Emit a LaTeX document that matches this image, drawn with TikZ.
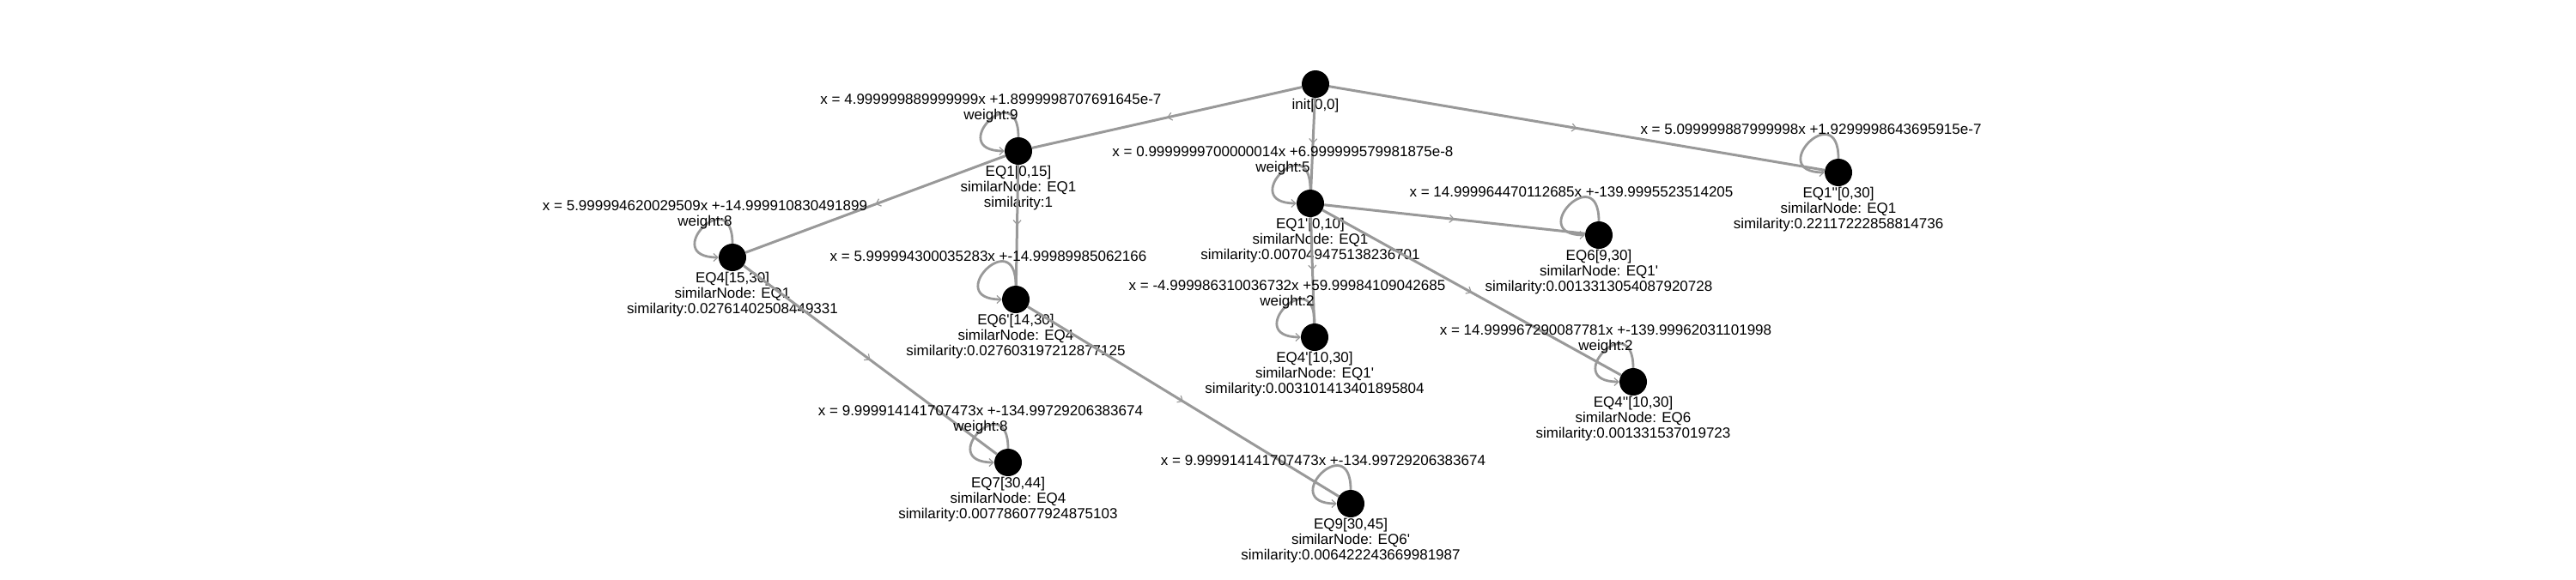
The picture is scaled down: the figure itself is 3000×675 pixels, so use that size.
\documentclass[tikz,border=0pt]{standalone}
\usepackage{fontspec}
\setmainfont{Liberation Sans}[Ligatures=TeXOff]
\usetikzlibrary{positioning,arrows.meta,decorations.markings}

\tikzset{
  state/.style={circle,fill=black,minimum size=32pt,inner sep=0pt},
  txt/.style={font=\fontsize{17}{17.7}\selectfont,align=center,inner sep=1pt},
  barb/.tip={Straight Barb[length=5pt,width=9pt,line width=1.2pt]},
  edge/.style={draw=black!40,line width=3pt,postaction={decorate},
    decoration={markings,mark=at position 0.5 with {\arrow{barb}}}},
  selfloop/.style={draw=black!40,line width=2.8pt,-barb},
}

\begin{document}
\begin{tikzpicture}[x=1pt,y=-1pt]
\useasboundingbox (0,0) rectangle (3000,675);

%states
\node[state] (init) at (1532,98) {};
\node[state] (eq1) at (1186,176) {};
\node[state] (eq1pp) at (2141,201) {};
\node[state] (eq1p) at (1526,237) {};
\node[state] (eq6) at (1862,274) {};
\node[state] (eq4) at (853,300) {};
\node[state] (eq6p) at (1183,349) {};
\node[state] (eq4p) at (1531,393) {};
\node[state] (eq4pp) at (1902,445) {};
\node[state] (eq7) at (1174,539) {};
\node[state] (eq9) at (1573,587) {};

\node[txt,below=0pt of init] (init-t) {init[0,0]};
\node[txt,below=0pt of eq1] (eq1-t) {EQ1[0,15]\\similarNode: EQ1\\similarity:1};
\node[txt,below=0pt of eq1pp] (eq1pp-t) {EQ1''[0,30]\\similarNode: EQ1\\similarity:0.22117222858814736};
\node[txt,below=0pt of eq1p] (eq1p-t) {EQ1'[0,10]\\similarNode: EQ1\\similarity:0.007049475138236701};
\node[txt,below=0pt of eq6] (eq6-t) {EQ6[9,30]\\similarNode: EQ1'\\similarity:0.0013313054087920728};
\node[txt,below=0pt of eq4] (eq4-t) {EQ4[15,30]\\similarNode: EQ1\\similarity:0.02761402508449331};
\node[txt,below=0pt of eq6p] (eq6p-t) {EQ6'[14,30]\\similarNode: EQ4\\similarity:0.027603197212877125};
\node[txt,below=0pt of eq4p] (eq4p-t) {EQ4'[10,30]\\similarNode: EQ1'\\similarity:0.003101413401895804};
\node[txt,below=0pt of eq4pp] (eq4pp-t) {EQ4''[10,30]\\similarNode: EQ6\\similarity:0.001331537019723};
\node[txt,below=0pt of eq7] (eq7-t) {EQ7[30,44]\\similarNode: EQ4\\similarity:0.007786077924875103};
\node[txt,below=0pt of eq9] (eq9-t) {EQ9[30,45]\\similarNode: EQ6'\\similarity:0.006422243669981987};

%transitions
\draw[edge] (init) -- (eq1);
\draw[edge] (init) -- (eq1pp);
\draw[edge] (init) -- (eq1p);
\draw[edge] (eq1) -- (eq4);
\draw[edge] (eq1) -- (eq6p);
\draw[edge] (eq1p) -- (eq6);
\draw[edge] (eq1p) -- (eq4p);
\draw[edge] (eq1p) -- (eq4pp);
\draw[edge] (eq4) -- (eq7);
\draw[edge] (eq6p) -- (eq9);

%self loops, label sits over the loop
\foreach \s in {eq1,eq1pp,eq1p,eq6,eq4,eq6p,eq4p,eq4pp,eq7,eq9}
  \draw[selfloop] (\s.north) .. controls +(0,-72) and +(-70,0) .. (\s.west);

\node[txt] (eq1-l) at ([shift={(-32pt,50pt)}]eq1) {x = 4.999999889999999x +1.8999998707691645e-7\\weight:9};
\node[txt] (eq1pp-l) at ([shift={(-32pt,50pt)}]eq1pp) {x = 5.099999887999998x +1.9299998643695915e-7};
\node[txt] (eq1p-l) at ([shift={(-32pt,50pt)}]eq1p) {x = 0.9999999700000014x +6.999999579981875e-8\\weight:5};
\node[txt] (eq6-l) at ([shift={(-32pt,50pt)}]eq6) {x = 14.999964470112685x +-139.9995523514205};
\node[txt] (eq4-l) at ([shift={(-32pt,50pt)}]eq4) {x = 5.999994620029509x +-14.999910830491899\\weight:8};
\node[txt] (eq6p-l) at ([shift={(-32pt,50pt)}]eq6p) {x = 5.999994300035283x +-14.99989985062166};
\node[txt] (eq4p-l) at ([shift={(-32pt,50pt)}]eq4p) {x = -4.999986310036732x +59.99984109042685\\weight:2};
\node[txt] (eq4pp-l) at ([shift={(-32pt,50pt)}]eq4pp) {x = 14.999967290087781x +-139.99962031101998\\weight:2};
\node[txt] (eq7-l) at ([shift={(-32pt,50pt)}]eq7) {x = 9.999914141707473x +-134.99729206383674\\weight:8};
\node[txt] (eq9-l) at ([shift={(-32pt,50pt)}]eq9) {x = 9.999914141707473x +-134.99729206383674};

\end{tikzpicture}
\end{document}
